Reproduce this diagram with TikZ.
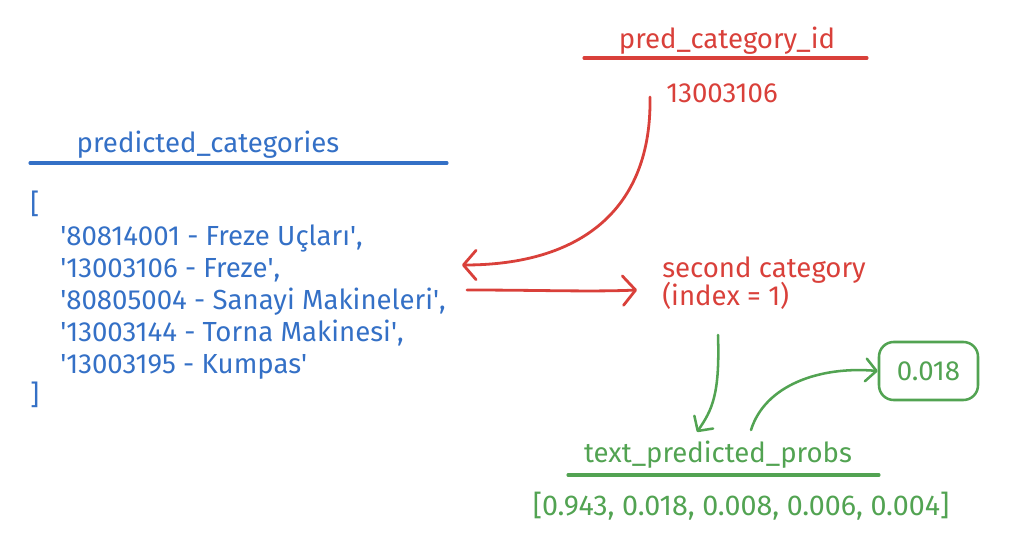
\documentclass[tikz,border=0pt]{standalone}
\usepackage{fontspec}
\setmainfont{Fira Sans}
\usetikzlibrary{arrows.meta}
\definecolor{cblue}{RGB}{52,112,198}
\definecolor{cred}{RGB}{217,64,58}
\definecolor{cgreen}{RGB}{82,163,82}
\newcommand{\apos}{\textquotesingle}
\begin{document}
\begin{tikzpicture}[x=0.75pt,y=-0.75pt,
  txt/.style={inner sep=0pt, font=\fontsize{20.7}{25}\selectfont},
  uline/.style={line width=2.3pt, line cap=round},
  redarrow/.style={draw=cred, line width=2.1pt, line cap=round, line join=round,
    -{Straight Barb[length=9.5pt,width=22pt,line cap=round,line join=round]}},
  greenarrow/.style={draw=cgreen, line width=1.9pt, line cap=round, line join=round,
    -{Straight Barb[length=8pt,width=17pt,line cap=round,line join=round]}}]
\useasboundingbox (0,0) rectangle (1024,546);

% blue block
\node[txt,text=cblue,anchor=base] (pcTitle) at (208,152) {predicted\_categories};
\draw[uline,cblue] (30,163) -- (447,163);
\node[txt,text=cblue,anchor=base west] (lb) at (30,213) {[};
\node[txt,text=cblue,anchor=base west] (l1) at (60,245) {\apos80814001 - Freze Uçları\apos,};
\node[txt,text=cblue,anchor=base west] (l2) at (60,277) {\apos13003106 - Freze\apos,};
\node[txt,text=cblue,anchor=base west] (l3) at (60,309) {\apos80805004 - Sanayi Makineleri\apos,};
\node[txt,text=cblue,anchor=base west] (l4) at (60,341) {\apos13003144 - Torna Makinesi\apos,};
\node[txt,text=cblue,anchor=base west] (l5) at (60,373) {\apos13003195 - Kumpas\apos};
\node[txt,text=cblue,anchor=base west] (rb) at (30,404) {]};

% red block
\node[txt,text=cred,anchor=base] (pidTitle) at (727,48) {pred\_category\_id};
\draw[uline,cred] (584,58) -- (867,58);
\node[txt,text=cred,anchor=base] (num) at (722,102) {13003106};
\node[txt,text=cred,anchor=base west] (sc1) at (662,277) {second category};
\node[txt,text=cred,anchor=base west] (sc2) at (662,305) {(index = 1)};

\coordinate (numL) at (650,97);
\coordinate (l2R) at (462,265);
\coordinate (l3R) at (467,290);
\coordinate (scL) at (637,290);
\draw[redarrow] (numL) .. controls (652,210) and (580,265) .. (l2R);
\draw[redarrow] (l3R) .. controls (540,290) and (590,292) .. (scL);

% green block
\node[txt,text=cgreen,anchor=base] (tppTitle) at (718,462) {text\_predicted\_probs};
\draw[uline,cgreen] (568,475) -- (879,475);
\node[txt,text=cgreen,anchor=base,font=\fontsize{21.5}{25}\selectfont] (probs) at (741,515) {[0.943, 0.018, 0.008, 0.006, 0.004]};
\node[draw=cgreen, line width=1.9pt, rounded corners=11pt, minimum width=99*0.75pt,
      minimum height=58*0.75pt, inner sep=0pt, text=cgreen,
      font=\fontsize{20.7}{25}\selectfont] (box) at (928.5,371) {0.018};

\coordinate (scB) at (718,335);
\coordinate (tppT) at (697,432);
\coordinate (tppR) at (751,430);
\draw[greenarrow] (scB) .. controls (720,395) and (712,410) .. (tppT);
\draw[greenarrow] (tppR) .. controls (765,385) and (820,366) .. (box.west);
\end{tikzpicture}
\end{document}
